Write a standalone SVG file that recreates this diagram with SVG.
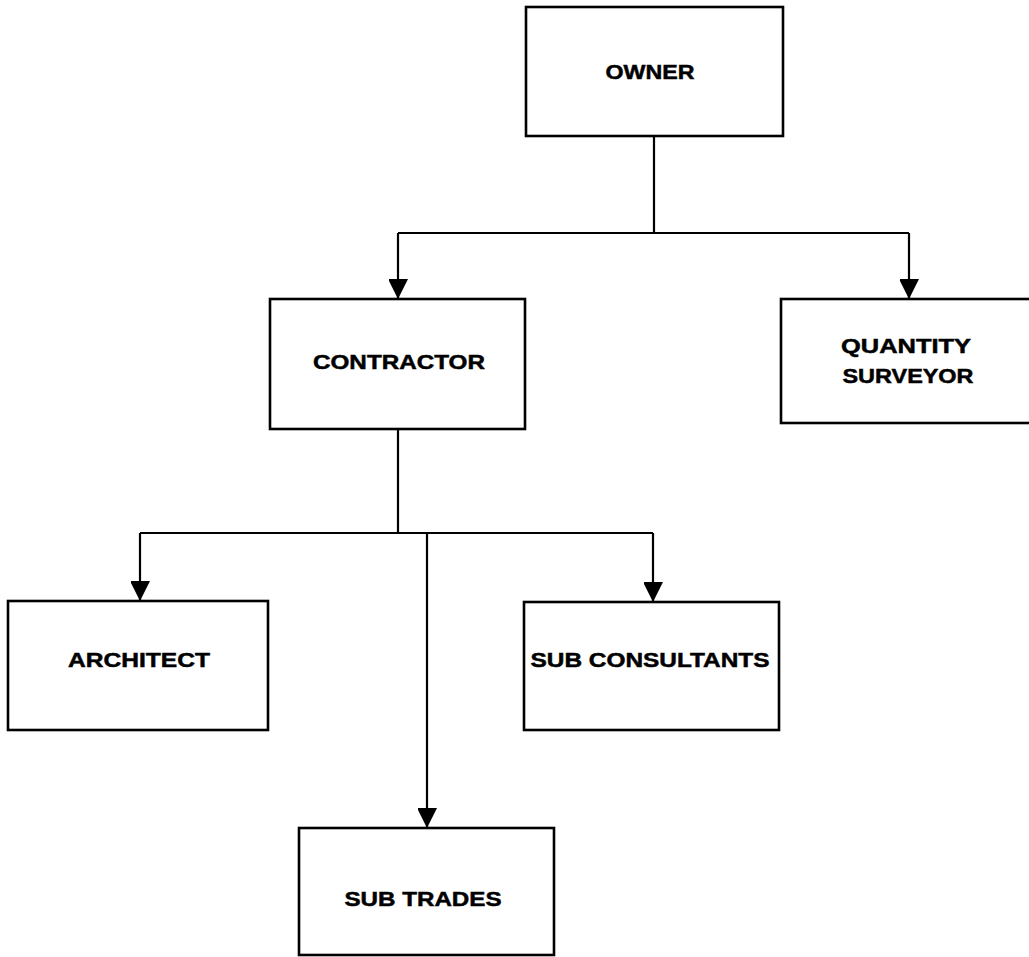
<svg xmlns="http://www.w3.org/2000/svg" width="1029" height="957" viewBox="0 0 1029 957">
  <style>
    .box { fill: #ffffff; stroke: #000000; stroke-width: 2.6; }
    .wire { fill: none; stroke: #000000; stroke-width: 2.2; }
    .label { font-family: "Liberation Sans", Arial, sans-serif; font-weight: bold; font-size: 21px; fill: #000000; stroke: #000000; stroke-width: 0.5; text-anchor: middle; }
  </style>
  <defs>
    <marker id="arrow" markerUnits="userSpaceOnUse" markerWidth="22" markerHeight="19" refX="20" refY="10" orient="auto">
      <path d="M0,0 L20,10 L0,20 Z" fill="#000000"/>
    </marker>
  </defs>
  <rect width="1029" height="957" fill="#ffffff"/>

  <g id="connectors">
    <!-- owner to its two reports -->
    <path class="wire" d="M654,136 V233"/>
    <path class="wire" d="M398,233 H909"/>
    <path class="wire" d="M398,233 V299" marker-end="url(#arrow)"/>
    <path class="wire" d="M909,233 V299" marker-end="url(#arrow)"/>
    <!-- contractor to its three reports -->
    <path class="wire" d="M398,429 V533"/>
    <path class="wire" d="M140,533 H653"/>
    <path class="wire" d="M140,533 V601" marker-end="url(#arrow)"/>
    <path class="wire" d="M653,533 V602" marker-end="url(#arrow)"/>
    <path class="wire" d="M427,533 V828" marker-end="url(#arrow)"/>
  </g>

  <g id="owner">
    <rect class="box" x="526" y="7" width="257" height="129"/>
    <text class="label" x="650" y="79" textLength="89" lengthAdjust="spacingAndGlyphs">OWNER</text>
  </g>

  <g id="contractor">
    <rect class="box" x="270" y="299" width="255" height="130"/>
    <text class="label" x="399" y="369" textLength="172" lengthAdjust="spacingAndGlyphs">CONTRACTOR</text>
  </g>

  <g id="quantity-surveyor">
    <rect class="box" x="781" y="299" width="252" height="124"/>
    <text class="label" x="906" y="353" textLength="130" lengthAdjust="spacingAndGlyphs">QUANTITY</text>
    <text class="label" x="908" y="383" textLength="131" lengthAdjust="spacingAndGlyphs">SURVEYOR</text>
  </g>

  <g id="architect">
    <rect class="box" x="8" y="601" width="260" height="129"/>
    <text class="label" x="139" y="667" textLength="142" lengthAdjust="spacingAndGlyphs">ARCHITECT</text>
  </g>

  <g id="sub-consultants">
    <rect class="box" x="524" y="602" width="255" height="128"/>
    <text class="label" x="650" y="667" textLength="239" lengthAdjust="spacingAndGlyphs">SUB CONSULTANTS</text>
  </g>

  <g id="sub-trades">
    <rect class="box" x="299" y="828" width="255" height="127"/>
    <text class="label" x="423" y="906" textLength="157" lengthAdjust="spacingAndGlyphs">SUB TRADES</text>
  </g>
</svg>
